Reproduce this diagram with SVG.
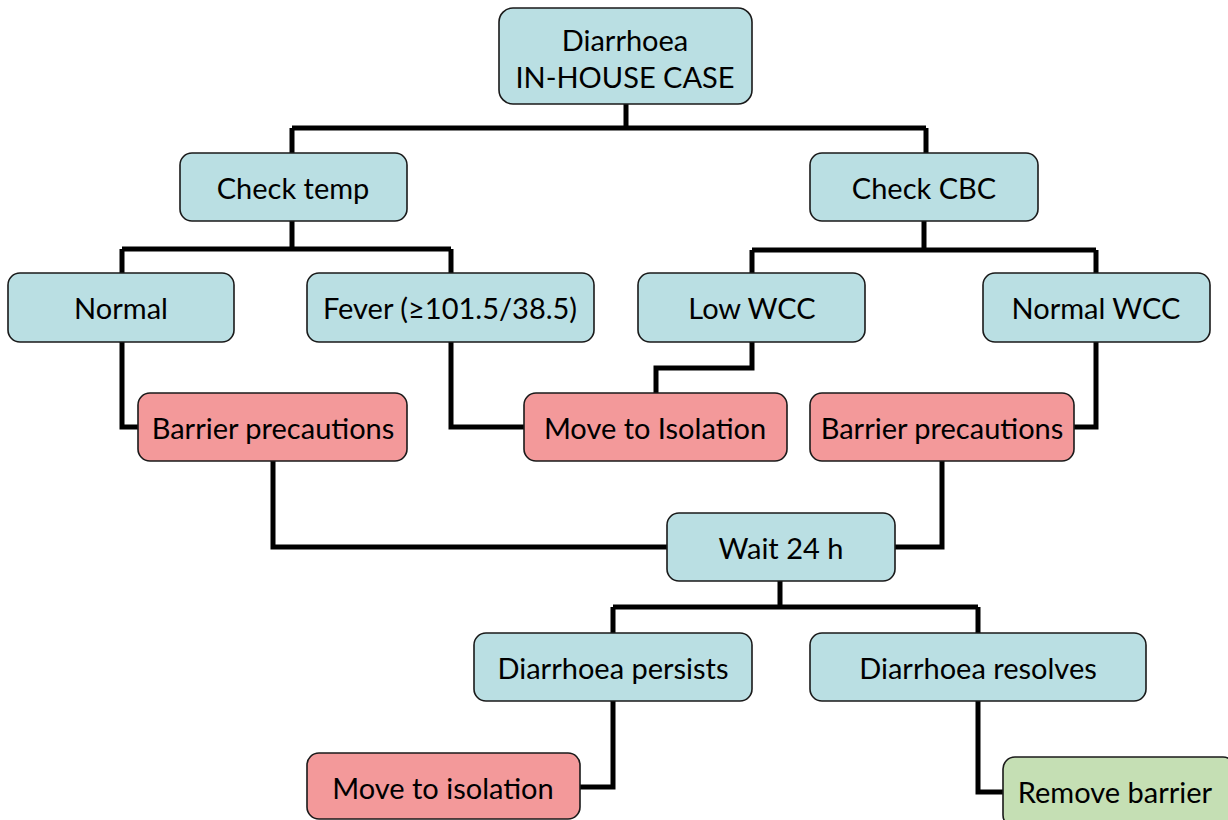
<svg xmlns="http://www.w3.org/2000/svg" width="1228" height="820" viewBox="0 0 1228 820">
<style>
.n rect{stroke:#1a1a1a;stroke-width:1.6}
.b rect{fill:#badfe3}
.r rect{fill:#f3999a}
.g rect{fill:#c5dfb4}
text{font-family:Lato,"Open Sans","Liberation Sans",sans-serif;font-size:29px;fill:#000;text-anchor:middle;dominant-baseline:central}
#connectors path{fill:none;stroke:#000;stroke-width:5;stroke-linejoin:miter}
</style>
<rect width="1228" height="820" fill="#fff"/>
<g id="connectors">
<path d="M626,104 V128 M292,128 H926 M292,128 V153 M926,128 V153"/>
<path d="M292,221 V249 M122,249 H451 M122,249 V273 M451,249 V273"/>
<path d="M924,221 V250 M752,250 H1096 M752,250 V273 M1096,250 V273"/>
<path d="M122,342 V427 H138"/>
<path d="M451,342 V427 H524"/>
<path d="M752,342 V368 H656 V393"/>
<path d="M1096,342 V427 H1074"/>
<path d="M273,461 V547 H667"/>
<path d="M942,461 V547 H895"/>
<path d="M780,581 V607 M613,607 H978 M613,607 V633 M978,607 V633"/>
<path d="M613,701 V787 H580"/>
<path d="M978,701 V792 H1003"/>
</g>
<g id="n-start" class="n b"><rect x="499" y="8" width="253" height="96" rx="14"/><text x="625" y="39">Diarrhoea</text><text x="625" y="76">IN-HOUSE CASE</text></g>
<g id="n-temp" class="n b"><rect x="180" y="153" width="227" height="68" rx="12"/><text x="293" y="187">Check temp</text></g>
<g id="n-cbc" class="n b"><rect x="810" y="153" width="228" height="68" rx="12"/><text x="924" y="187">Check CBC</text></g>
<g id="n-normal" class="n b"><rect x="8" y="273" width="226" height="69" rx="12"/><text x="121" y="307">Normal</text></g>
<g id="n-fever" class="n b"><rect x="307" y="273" width="287" height="69" rx="12"/><text x="450" y="307">Fever (≥101.5/38.5)</text></g>
<g id="n-lowwcc" class="n b"><rect x="638" y="273" width="227" height="69" rx="12"/><text x="752" y="307">Low WCC</text></g>
<g id="n-normwcc" class="n b"><rect x="983" y="273" width="227" height="69" rx="12"/><text x="1096" y="307">Normal WCC</text></g>
<g id="n-barrier1" class="n r"><rect x="138" y="393" width="269" height="68" rx="12"/><text x="273" y="427">Barrier precautions</text></g>
<g id="n-isolation1" class="n r"><rect x="524" y="393" width="263" height="68" rx="12"/><text x="655" y="427">Move to Isolation</text></g>
<g id="n-barrier2" class="n r"><rect x="810" y="393" width="264" height="68" rx="12"/><text x="942" y="427">Barrier precautions</text></g>
<g id="n-wait" class="n b"><rect x="667" y="513" width="228" height="68" rx="12"/><text x="781" y="547">Wait 24 h</text></g>
<g id="n-persists" class="n b"><rect x="474" y="633" width="278" height="68" rx="12"/><text x="613" y="667">Diarrhoea persists</text></g>
<g id="n-resolves" class="n b"><rect x="810" y="633" width="336" height="68" rx="12"/><text x="978" y="667">Diarrhoea resolves</text></g>
<g id="n-isolation2" class="n r"><rect x="307" y="753" width="273" height="66" rx="12"/><text x="443" y="787">Move to isolation</text></g>
<g id="n-remove" class="n g"><rect x="1003" y="757" width="232" height="70" rx="12"/><text x="1115" y="791">Remove barrier</text></g>
</svg>
